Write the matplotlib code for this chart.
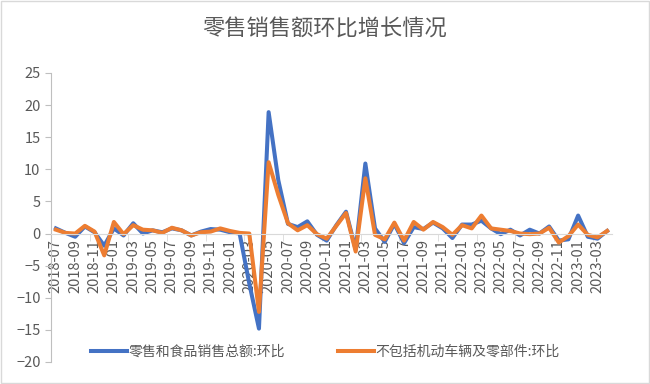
import numpy as np
import matplotlib
matplotlib.use("Agg")
import matplotlib.pyplot as plt
from matplotlib.patches import Rectangle

plt.rcParams['font.family'] = ['Noto Sans CJK SC', 'DejaVu Sans']

# months 2018-07 .. 2023-04
months = [f"{y}-{m:02d}" for y in range(2018, 2024) for m in range(1, 13)]
months = months[months.index("2018-07"):months.index("2023-04") + 1]

# 零售和食品销售总额:环比
total = [0.8, 0.1, -0.5, 1.1, 0.2, -1.9, 0.8, -0.3, 1.6, 0.0,
         0.5, 0.2, 0.8, 0.5, -0.3, 0.3, 0.7, 0.6, 0.2, 0.0,
         -7.8, -14.8, 18.9, 8.3, 1.5, 1.0, 1.9, -0.2, -1.1, 1.3,
         3.4, -2.5, 10.9, 0.8, -1.3, 1.5, -1.5, 1.0, 0.7, 1.7,
         0.8, -0.7, 1.4, 1.4, 2.0, 0.8, -0.1, 0.6, -0.3, 0.6,
         0.0, 1.1, -1.1, -0.9, 2.8, -0.5, -0.8, 0.4]
# 不包括机动车辆及零部件:环比
ex_auto = [0.6, 0.1, 0.0, 1.2, 0.3, -3.4, 1.8, -0.1, 1.3, 0.6,
           0.5, 0.1, 0.9, 0.5, -0.3, 0.2, 0.3, 0.8, 0.4, 0.1,
           0.0, -12.2, 11.1, 6.0, 1.6, 0.5, 1.3, -0.1, -0.8, 1.2,
           3.2, -2.8, 8.6, -0.2, -0.9, 1.7, -1.1, 1.8, 0.6, 1.8,
           1.0, -0.2, 1.3, 0.8, 2.8, 0.8, 0.6, 0.4, 0.0, -0.1,
           0.0, 0.9, -1.4, -0.4, 1.4, -0.2, -0.6, 0.4]

grey = "#595959"

fig = plt.figure(figsize=(6.5, 3.84), dpi=100)
ax = fig.add_axes([0.0785, 0.0573, 0.863, 0.7527])

x = np.arange(len(months))
ax.plot(x, total, color="#4472C4", lw=2.9, solid_joinstyle="round",
        label="零售和食品销售总额:环比")
ax.plot(x, ex_auto, color="#ED7D31", lw=2.9, solid_joinstyle="round",
        label="不包括机动车辆及零部件:环比")

ax.set_xlim(-0.5, len(months) - 0.5)
ax.set_ylim(-20, 25)
ax.set_yticks(range(-20, 26, 5))
ax.tick_params(axis="y", colors=grey, labelsize=10.5, length=4, color="#BFBFBF")

ax.set_xticks(x[::2])
ax.set_xticklabels(months[::2])
ax.set_xticks(np.arange(3.5, len(months), 4), minor=True)
ax.tick_params(axis="x", which="major", length=0, pad=4, labelrotation=90,
               labelsize=10.5, labelcolor=grey)
ax.tick_params(axis="x", which="minor", length=5, color="#D9D9D9")
for lab in ax.get_xticklabels():
    lab.set_va("top")
    lab.set_ha("center")

for s in ("top", "right"):
    ax.spines[s].set_visible(False)
ax.spines["bottom"].set_position(("data", 0))
ax.spines["bottom"].set_color("#D9D9D9")
ax.spines["left"].set_color("#BFBFBF")

fig.suptitle("零售销售额环比增长情况", x=0.5, y=0.955, fontsize=16, color=grey)

fig.legend(loc="center", bbox_to_anchor=(0.5, 0.083), ncol=2, frameon=False,
           fontsize=10, handlelength=2.6, handletextpad=0.1, columnspacing=3.8,
           labelcolor=grey)

fig.patches.append(Rectangle((0.002, 0.003), 0.996, 0.994, transform=fig.transFigure,
                             fill=False, edgecolor="#D9D9D9", lw=1))

fig.savefig("out.png", dpi=100)
